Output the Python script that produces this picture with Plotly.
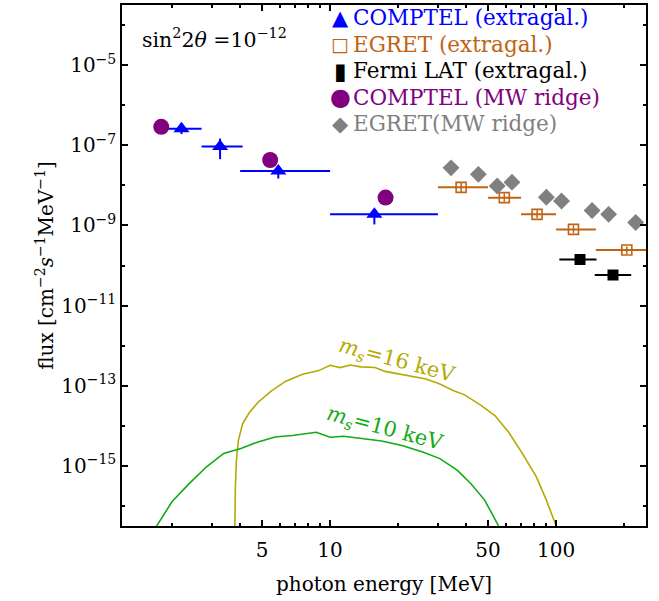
import plotly.graph_objects as go

# ---------------- data ----------------
# COMPTEL (extragalactic)
comptel_eg_E = [2.2, 3.26, 5.9, 15.7]
comptel_eg_Elo = [1.8, 2.7, 4.0, 10.0]
comptel_eg_Ehi = [2.7, 4.1, 10.0, 30.0]
comptel_eg_F = [2.57e-7, 9.3e-8, 2.29e-8, 1.91e-9]
comptel_eg_Fhi = [3.1e-7, 1.47e-7, 3.0e-8, 2.4e-9]
comptel_eg_Flo = [1.9e-7, 4.5e-8, 1.48e-8, 1.06e-9]

# EGRET (extragalactic)
egret_eg_E = [38.0, 59.0, 82.4, 119.4, 205.6]
egret_eg_Elo = [30.0, 50.0, 70.0, 100.0, 150.0]
egret_eg_Ehi = [50.0, 70.0, 100.0, 150.0, 300.0]
egret_eg_F = [8.9e-9, 4.93e-9, 1.89e-9, 7.96e-10, 2.43e-10]
egret_eg_Fhi = [1.18e-8, 6.3e-9, 2.4e-9, 1.0e-9, 3.0e-10]
egret_eg_Flo = [6.7e-9, 3.9e-9, 1.5e-9, 6.4e-10, 1.95e-10]

# Fermi LAT (extragalactic)
fermi_E = [127.6, 178.6]
fermi_Elo = [103.4, 148.3]
fermi_Ehi = [151.0, 215.0]
fermi_F = [1.41e-10, 5.79e-11]
fermi_Fhi = [1.65e-10, 6.8e-11]
fermi_Flo = [1.2e-10, 4.9e-11]

# COMPTEL (MW ridge)
comptel_mw_E = [1.79, 5.43, 17.6]
comptel_mw_F = [2.88e-7, 4.29e-8, 4.96e-9]

# EGRET (MW ridge)
egret_mw_E = [34.3, 45.3, 54.9, 63.8, 90.6, 105.7, 144.3, 170.8, 225.0]
egret_mw_F = [2.73e-8, 1.88e-8, 9.64e-9, 1.20e-8, 5.05e-9, 4.06e-9, 2.35e-9, 1.89e-9, 1.18e-9]

# sterile neutrino decay spectra
ms16_E = [3.78, 3.79, 3.81, 3.85, 3.93, 4.10, 4.40, 4.80, 5.52, 6.34, 7.55, 8.85, 10.0,
          11.1, 12.3, 13.7, 15.8, 17.5, 20.1, 23.2, 26.6, 30.6, 35.2, 39.2, 46.7,
          53.6, 61.7, 71.0, 81.7, 90.6, 100.0, 101.0]
ms16_F = [1e-17, 3.5e-17, 3.0e-16, 1.38e-15, 4.4e-15, 1.12e-14, 2.18e-14, 3.87e-14, 7.55e-14,
          1.28e-13, 1.94e-13, 2.35e-13, 3.25e-13, 2.84e-13, 3.3e-13, 2.96e-13, 2.84e-13,
          2.28e-13, 1.96e-13, 1.67e-13, 1.47e-13, 1.1e-13, 7.5e-14, 6.0e-14, 3.2e-14,
          1.8e-14, 6.9e-15, 2.03e-15, 5.4e-16, 1.4e-16, 3.2e-17, 1e-17]

ms10_E = [1.68, 1.71, 2.0, 2.38, 2.84, 3.38, 4.03, 4.80, 5.71, 6.81, 8.68, 10.0, 11.5,
          13.7, 16.9, 20.8, 25.7, 30.6, 36.5, 42.0, 48.3, 55.6, 57.0]
ms10_F = [1.5e-17, 3.2e-17, 1.29e-16, 3.6e-16, 9.5e-16, 2.04e-15, 2.7e-15, 3.96e-15, 5.25e-15,
          5.75e-15, 6.9e-15, 5.2e-15, 5.5e-15, 4.8e-15, 4.17e-15, 3.24e-15, 2.22e-15,
          1.52e-15, 7.8e-16, 3.6e-16, 1.4e-16, 3.2e-17, 1.5e-17]

y_tickvals = [1e-5, 1e-7, 1e-9, 1e-11, 1e-13, 1e-15]
y_ticktext = ["10<sup>\u22125</sup>", "10<sup>\u22127</sup>", "10<sup>\u22129</sup>",
              "10<sup>\u221211</sup>", "10<sup>\u221213</sup>", "10<sup>\u221215</sup>"]
y_minor = [1e-4, 1e-6, 1e-8, 1e-10, 1e-12, 1e-14, 1e-16]
x_tickvals = [5, 10, 50, 100]
x_ticktext = ["5", "10", "50", "100"]
x_minor = [2, 3, 4, 6, 7, 8, 9, 20, 30, 40, 60, 70, 80, 90, 200]

legend_labels = ["COMPTEL (extragal.)", "EGRET (extragal.)", "Fermi LAT (extragal.)",
                 "COMPTEL (MW ridge)", "EGRET(MW ridge)"]
legend_glyphs = ["\u25b2", "\u25a1", "\u25ae", "\u25cf", "\u25c6"]

# ---------------- styling ----------------
FONT = "DejaVu Serif"
BLUE = "#0000ff"
ORANGE = "#c06414"
PURPLE = "#800080"
GRAY = "#808080"
OLIVE = "#b4aa00"
GREEN = "#14aa14"
legend_colors = [BLUE, ORANGE, "black", PURPLE, GRAY]
legend_glyph_sizes = [21, 19, 23, 24, 21]


def plus(v, hi):
    return [h - x for x, h in zip(v, hi)]


def minus(v, lo):
    return [x - l for x, l in zip(v, lo)]


fig = go.Figure()

# curves
fig.add_trace(go.Scatter(x=ms16_E, y=ms16_F, mode="lines", line=dict(color=OLIVE, width=1.6),
                         showlegend=False, hoverinfo="skip"))
fig.add_trace(go.Scatter(x=ms10_E, y=ms10_F, mode="lines", line=dict(color=GREEN, width=1.6),
                         showlegend=False, hoverinfo="skip"))

# COMPTEL extragal
fig.add_trace(go.Scatter(
    x=comptel_eg_E, y=comptel_eg_F, mode="markers", name=legend_labels[0],
    marker=dict(symbol="triangle-up", size=14, color=BLUE),
    error_x=dict(type="data", symmetric=False, array=plus(comptel_eg_E, comptel_eg_Ehi),
                 arrayminus=minus(comptel_eg_E, comptel_eg_Elo), width=0, thickness=2, color=BLUE),
    error_y=dict(type="data", symmetric=False, array=plus(comptel_eg_F, comptel_eg_Fhi),
                 arrayminus=minus(comptel_eg_F, comptel_eg_Flo), width=0, thickness=2, color=BLUE),
))

# EGRET extragal
fig.add_trace(go.Scatter(
    x=egret_eg_E, y=egret_eg_F, mode="markers", name=legend_labels[1],
    marker=dict(symbol="square-open", size=10, color=ORANGE, line=dict(width=1.6)),
    error_x=dict(type="data", symmetric=False, array=plus(egret_eg_E, egret_eg_Ehi),
                 arrayminus=minus(egret_eg_E, egret_eg_Elo), width=0, thickness=2, color=ORANGE),
    error_y=dict(type="data", symmetric=False, array=plus(egret_eg_F, egret_eg_Fhi),
                 arrayminus=minus(egret_eg_F, egret_eg_Flo), width=0, thickness=1.5, color=ORANGE),
))

# Fermi LAT
fig.add_trace(go.Scatter(
    x=fermi_E, y=fermi_F, mode="markers", name=legend_labels[2],
    marker=dict(symbol="square", size=11, color="black"),
    error_x=dict(type="data", symmetric=False, array=plus(fermi_E, fermi_Ehi),
                 arrayminus=minus(fermi_E, fermi_Elo), width=0, thickness=2, color="black"),
    error_y=dict(type="data", symmetric=False, array=plus(fermi_F, fermi_Fhi),
                 arrayminus=minus(fermi_F, fermi_Flo), width=0, thickness=10, color="black"),
))

# COMPTEL MW ridge
fig.add_trace(go.Scatter(
    x=comptel_mw_E, y=comptel_mw_F, mode="markers", name=legend_labels[3],
    marker=dict(symbol="circle", size=16, color=PURPLE),
))

# EGRET MW ridge
fig.add_trace(go.Scatter(
    x=egret_mw_E, y=egret_mw_F, mode="markers", name=legend_labels[4],
    marker=dict(symbol="diamond", size=13, color=GRAY),
))

fig.update_layout(
    width=659, height=601,
    margin=dict(l=122, r=13, t=3, b=75),
    paper_bgcolor="white", plot_bgcolor="white",
    font=dict(family=FONT, size=20, color="black"),
    showlegend=False,
    xaxis=dict(type="log", range=[0.0792, 2.3979], tickmode="array", tickvals=x_tickvals,
               ticktext=x_ticktext, ticks="inside", ticklen=6, tickwidth=1.5, tickcolor="black",
               ticklabelstandoff=5,
               minor=dict(tickvals=x_minor, ticks="inside", ticklen=3, tickwidth=1.5, tickcolor="black"),
               showline=True, linecolor="black", linewidth=1.5, mirror="allticks",
               showgrid=False, zeroline=False,
               title=dict(text="photon energy [MeV]", font=dict(size=20), standoff=16)),
    yaxis=dict(type="log", range=[-16.5, -3.5], tickmode="array", tickvals=y_tickvals,
               ticktext=y_ticktext, ticks="inside", ticklen=6, tickwidth=1.5, tickcolor="black",
               minor=dict(tickvals=y_minor, ticks="inside", ticklen=3, tickwidth=1.5, tickcolor="black"),
               showline=True, linecolor="black", linewidth=1.5, mirror="allticks",
               showgrid=False, zeroline=False,
               title=dict(text="flux [cm<sup>\u22122</sup><i>s</i><sup>\u22121</sup>MeV<sup>\u22121</sup>]",
                          font=dict(size=20), standoff=2)),
)

# legend drawn as coloured text rows (glyph + label)
PLOT_L, PLOT_W, PLOT_B, PLOT_H = 122, 524, 526, 523
row_y_px = [16, 42.5, 69, 95.5, 122]
for lab, gl, col, gs, ypx in zip(legend_labels, legend_glyphs, legend_colors, legend_glyph_sizes, row_y_px):
    yp = (PLOT_B - ypx) / PLOT_H
    fig.add_annotation(x=(340 - PLOT_L) / PLOT_W, y=yp, xref="paper", yref="paper",
                       xanchor="center", yanchor="middle", text=gl, showarrow=False,
                       font=dict(family="DejaVu Sans", size=gs, color=col))
    fig.add_annotation(x=(351 - PLOT_L) / PLOT_W, y=yp, xref="paper", yref="paper",
                       xanchor="left", yanchor="middle", text=lab, showarrow=False,
                       font=dict(family=FONT, size=21.5, color=col))

fig.add_annotation(x=0.034, y=0.935, xref="paper", yref="paper", xanchor="left", yanchor="middle",
                   text="sin<sup>2</sup>2<i>\u03b8</i> =10<sup>\u221212</sup>", showarrow=False,
                   font=dict(family=FONT, size=20.5, color="black"))
fig.add_annotation(x=0.525, y=0.317, xref="paper", yref="paper", xanchor="center", yanchor="middle",
                   textangle=15, text="<i>m<sub>s</sub></i>=16 keV", showarrow=False,
                   font=dict(family=FONT, size=21, color=OLIVE))
fig.add_annotation(x=0.502, y=0.187, xref="paper", yref="paper", xanchor="center", yanchor="middle",
                   textangle=15, text="<i>m<sub>s</sub></i>=10 keV", showarrow=False,
                   font=dict(family=FONT, size=21, color=GREEN))

fig.write_html("out.html", config={"displayModeBar": False},
               post_script="document.body.style.margin='0';")
